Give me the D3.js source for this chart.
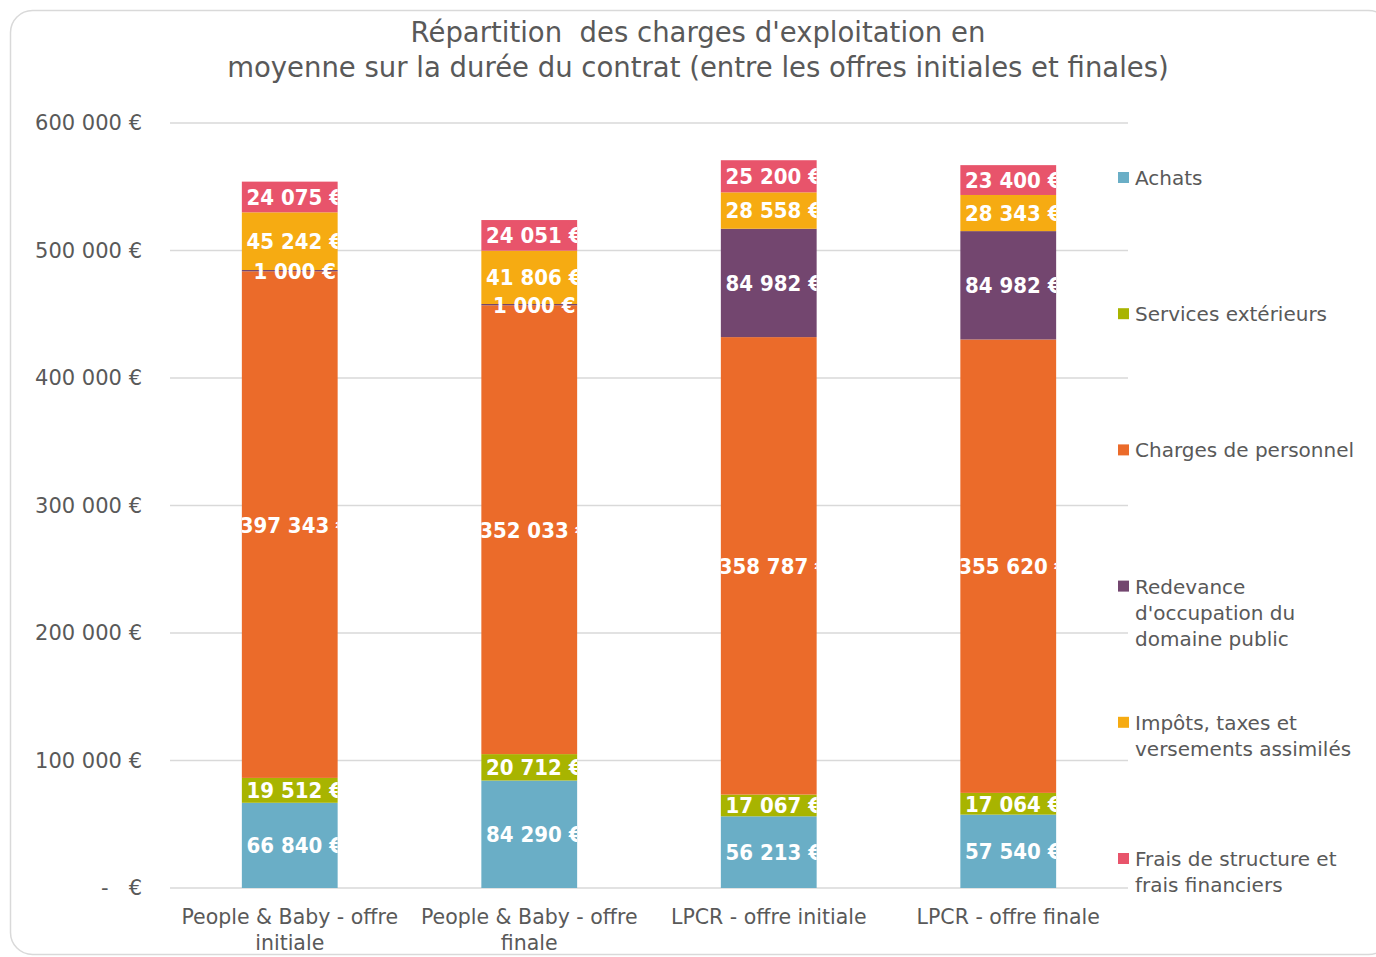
<!DOCTYPE html>
<html>
<head>
<meta charset="utf-8">
<script src="https://cdn.jsdelivr.net/npm/d3@7"></script>
<style>
  body { margin: 0; background: #fff; }
  text { font-family: "DejaVu Sans", sans-serif; }
</style>
</head>
<body>
<div id="chart"></div>
<script>
// data
let categories = ["People & Baby - offre initiale", "People & Baby - offre finale", "LPCR - offre initiale", "LPCR - offre finale"]
let categoryLines = [["People & Baby - offre", "initiale"], ["People & Baby - offre", "finale"], ["LPCR - offre initiale"], ["LPCR - offre finale"]]
let seriesNames = ["Achats", "Services extérieurs", "Charges de personnel", "Redevance d'occupation du domaine public", "Impôts, taxes et versements assimilés", "Frais de structure et frais financiers"]
let legendLines = [["Achats"], ["Services extérieurs"], ["Charges de personnel"], ["Redevance", "d'occupation du", "domaine public"], ["Impôts, taxes et", "versements assimilés"], ["Frais de structure et", "frais financiers"]]
let achats = [66840, 84290, 56213, 57540]
let services = [19512, 20712, 17067, 17064]
let personnel = [397343, 352033, 358787, 355620]
let redevance = [1000, 1000, 84982, 84982]
let impots = [45242, 41806, 28558, 28343]
let frais = [24075, 24051, 25200, 23400]
let yTicks = [0, 100000, 200000, 300000, 400000, 500000, 600000]
let colors = ["#6aaec6", "#a8b400", "#eb6b2a", "#73466f", "#f6ab12", "#e8546b"]

let seriesValues = [achats, services, personnel, redevance, impots, frais]

let width = 1376,
    height = 957

let svg = d3.select("#chart").append("svg")
    .attr("width", width)
    .attr("height", height)

// chart frame
svg.append("rect")
    .attr("x", 10.5).attr("y", 10.5)
    .attr("width", 1380).attr("height", 944)
    .attr("rx", 22)
    .attr("fill", "#fff")
    .attr("stroke", "#d9d9d9")
    .attr("stroke-width", 1.5)

// title
let title = svg.append("text")
    .attr("text-anchor", "middle")
    .attr("fill", "#595959")
    .style("font-size", "27.5px")
title.append("tspan").attr("x", 698).attr("y", 42).text("Répartition\u00a0 des charges d'exploitation en")
title.append("tspan").attr("x", 698).attr("y", 77).text("moyenne sur la durée du contrat (entre les offres initiales et finales)")

let xScale = d3.scaleBand()
    .domain(categories)
    .range([170, 1128])
    .paddingInner(0.6)
    .paddingOuter(0.3)

let yScale = d3.scaleLinear()
    .domain([0, 600000])
    .range([888, 123])

let fmt = function(v) {
    return d3.format(",")(v).replace(/,/g, "\u00a0") + "\u00a0€"
}

// gridlines
svg.append("g")
    .selectAll("line")
    .data(yTicks)
    .enter()
    .append("line")
    .attr("x1", 170).attr("x2", 1128)
    .attr("y1", function(d) { return yScale(d); })
    .attr("y2", function(d) { return yScale(d); })
    .attr("stroke", "#d9d9d9")
    .attr("stroke-width", 1.5)

// y axis labels
svg.append("g")
    .selectAll("text")
    .data(yTicks)
    .enter()
    .append("text")
    .attr("x", 142)
    .attr("y", function(d) { return yScale(d); })
    .attr("dy", "0.35em")
    .attr("text-anchor", "end")
    .attr("fill", "#595959")
    .style("font-size", "21px")
    .text(function(d) { return d === 0 ? "-\u00a0\u00a0\u00a0€" : fmt(d); })

// stack
let rows = categories.map(function(c, i) {
    let r = { category: c }
    seriesNames.forEach(function(s, j) { r[s] = seriesValues[j][i]; })
    return r
})
let stacked = d3.stack().keys(seriesNames)(rows)

let defs = svg.append("defs")
categories.forEach(function(c, i) {
    defs.append("clipPath").attr("id", "clip" + i)
        .append("rect")
        .attr("x", xScale(c))
        .attr("y", 0)
        .attr("width", xScale.bandwidth())
        .attr("height", height)
})

let layers = svg.selectAll(".layer")
    .data(stacked)
    .enter()
    .append("g")
    .attr("class", "layer")
    .attr("fill", function(d, i) { return colors[i]; })

layers.selectAll("rect")
    .data(function(d) { return d; })
    .enter()
    .append("rect")
    .attr("x", function(d) { return xScale(d.data.category); })
    .attr("y", function(d) { return yScale(d[1]); })
    .attr("width", xScale.bandwidth())
    .attr("height", function(d) { return yScale(d[0]) - yScale(d[1]); })

// value labels
let labels = svg.append("g")
stacked.forEach(function(layer) {
    layer.forEach(function(d, i) {
        labels.append("text")
            .attr("clip-path", "url(#clip" + i + ")")
            .attr("x", xScale(d.data.category) + xScale.bandwidth() / 2 + 5)
            .attr("y", yScale((d[0] + d[1]) / 2))
            .attr("dy", "0.36em")
            .attr("text-anchor", "middle")
            .attr("fill", "#fff")
            .style("font-size", "22px")
            .style("font-weight", "bold")
            .style("font-stretch", "condensed")
            .text(fmt(d[1] - d[0]))
    })
})

// x axis labels
categories.forEach(function(c, i) {
    let t = svg.append("text")
        .attr("text-anchor", "middle")
        .attr("fill", "#595959")
        .style("font-size", "20.5px")
    categoryLines[i].forEach(function(line, k) {
        t.append("tspan")
            .attr("x", xScale(c) + xScale.bandwidth() / 2)
            .attr("y", 924 + k * 26)
            .text(line)
    })
})

// legend
let legend = svg.append("g")
seriesNames.forEach(function(s, i) {
    let y = 178 + i * 136.2
    legend.append("rect")
        .attr("x", 1118).attr("y", y - 6)
        .attr("width", 11).attr("height", 11)
        .attr("fill", colors[i])
    let t = legend.append("text")
        .attr("fill", "#595959")
        .style("font-size", "20px")
    legendLines[i].forEach(function(line, k) {
        t.append("tspan")
            .attr("x", 1135)
            .attr("y", y + 7 + k * 26)
            .text(line)
    })
})
</script>
</body>
</html>
